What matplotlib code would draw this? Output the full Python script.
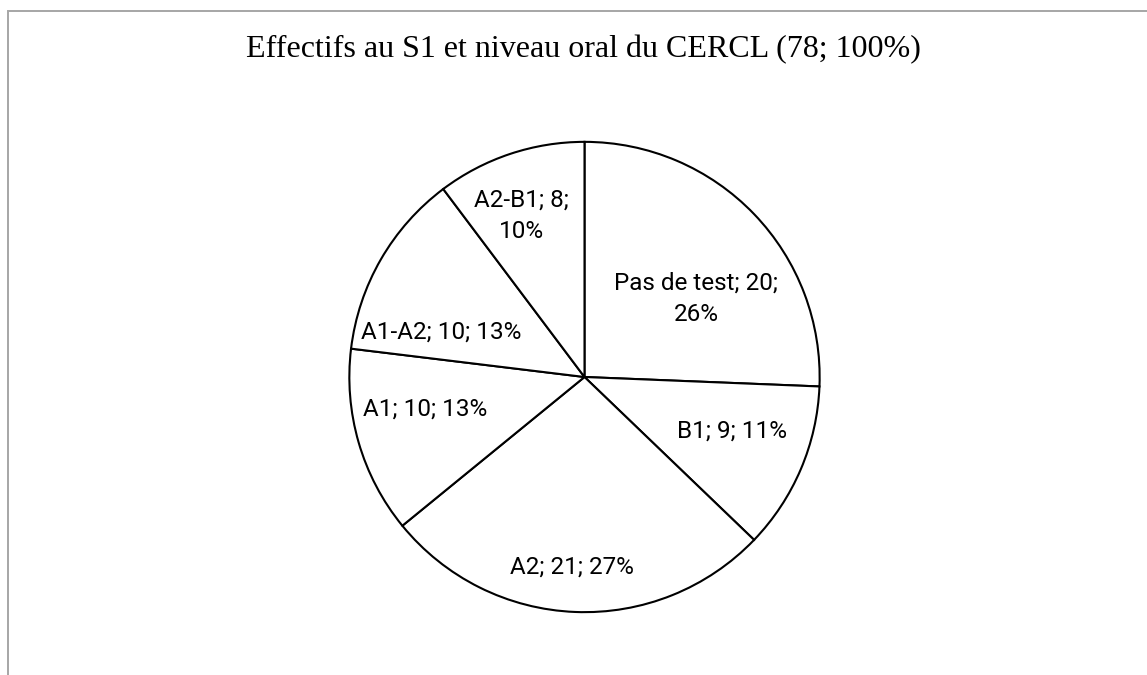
import matplotlib.pyplot as plt
from matplotlib.patches import Rectangle

# data
categories = ["Pas de test", "B1", "A2", "A1", "A1-A2", "A2-B1"]
counts = [20, 9, 21, 10, 10, 8]
percents = [26, 11, 27, 13, 13, 10]
title = "Effectifs au S1 et niveau oral du CERCL (78; 100%)"

# label layout (pie units, radius 1) and line breaks
label_pos = [(0.474, 0.333), (0.629, -0.229), (-0.055, -0.808),
             (-0.677, -0.135), (-0.608, 0.19), (-0.267, 0.686)]
two_lines = [True, False, False, False, False, True]

W, H = 1147, 675
fig = plt.figure(figsize=(W / 100, H / 100), dpi=100)

# chart area frame (only top and left edges visible)
fig.patches.append(Rectangle((8 / W, -0.5), 1.5, 1 - 11 / H + 0.5,
                             transform=fig.transFigure, fill=False,
                             edgecolor="#a6a6a6", linewidth=1.4))

cx, cy, r = 584.5, 377, 237.5
ax = fig.add_axes([(cx - r) / W, (H - cy - r) / H, 2 * r / W, 2 * r / H])
ax.pie(counts, startangle=90, counterclock=False, radius=1,
       colors=["white"] * len(counts),
       wedgeprops=dict(edgecolor="black", linewidth=1.5))
ax.set_xlim(-1.01, 1.01)
ax.set_ylim(-1.01, 1.01)
ax.axis("off")

for cat, n, p, pos, two in zip(categories, counts, percents, label_pos, two_lines):
    sep = "\n" if two else " "
    txt = f"{cat}; {n};{sep}{p}%"
    ax.text(pos[0], pos[1], txt, ha="center", va="center",
            fontsize=17.5, family="Roboto", linespacing=1.5)

fig.text(583.5 / W, 1 - 50 / H, title, ha="center", va="center",
         fontsize=23, family="Liberation Serif")

fig.savefig("out.png", dpi=100)
